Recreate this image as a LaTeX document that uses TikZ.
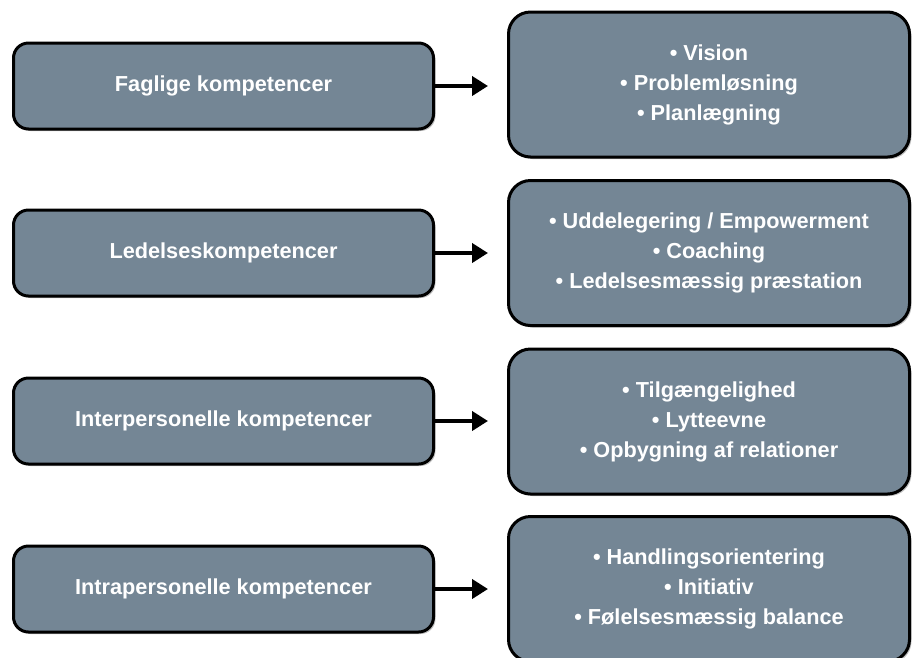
\documentclass[tikz,border=0pt]{standalone}
\usepackage{fontspec}
\setmainfont{Liberation Sans}
\usetikzlibrary{arrows.meta,shadows}
\definecolor{boxfill}{RGB}{116,134,149}
\tikzset{
  basebox/.style={draw=black, line width=3pt, fill=boxfill, text=white,
    font=\bfseries\fontsize{21.7pt}{30pt}\selectfont, align=center,
    drop shadow={shadow xshift=2pt, shadow yshift=-2pt, opacity=0.25, fill=black}},
  leftbox/.style={basebox, rounded corners=15pt, minimum width=420pt, minimum height=86pt, inner sep=0pt},
  rightbox/.style={basebox, rounded corners=22pt, minimum width=401pt, minimum height=145pt, inner sep=0pt},
  conn/.style={line width=4pt, -{Triangle[length=16pt,width=19pt]}, shorten >=19pt}
}
\begin{document}
\begin{tikzpicture}[x=1pt,y=-1pt]
\useasboundingbox (0,0) rectangle (912,657);
\clip (0,0) rectangle (912,657);
\fill[white] (0,0) rectangle (912,657);

\node[leftbox] (l1) at (223.5,86) {Faglige kompetencer};
\node[leftbox] (l2) at (223.5,253) {Ledelseskompetencer};
\node[leftbox] (l3) at (223.5,421) {Interpersonelle kompetencer};
\node[leftbox] (l4) at (223.5,589) {Intrapersonelle kompetencer};

\node[rightbox] (r1) at (709,84.5) {• Vision\\• Problemløsning\\• Planlægning};
\node[rightbox] (r2) at (709,253) {• Uddelegering / Empowerment\\• Coaching\\• Ledelsesmæssig præstation};
\node[rightbox] (r3) at (709,421.5) {• Tilgængelighed\\• Lytteevne\\• Opbygning af relationer};
\node[rightbox] (r4) at (709,589) {• Handlingsorientering\\• Initiativ\\• Følelsesmæssig balance};

\draw[conn] (l1.east) -- (l1.east -| r1.west);
\draw[conn] (l2.east) -- (l2.east -| r2.west);
\draw[conn] (l3.east) -- (l3.east -| r3.west);
\draw[conn] (l4.east) -- (l4.east -| r4.west);
\end{tikzpicture}
\end{document}
